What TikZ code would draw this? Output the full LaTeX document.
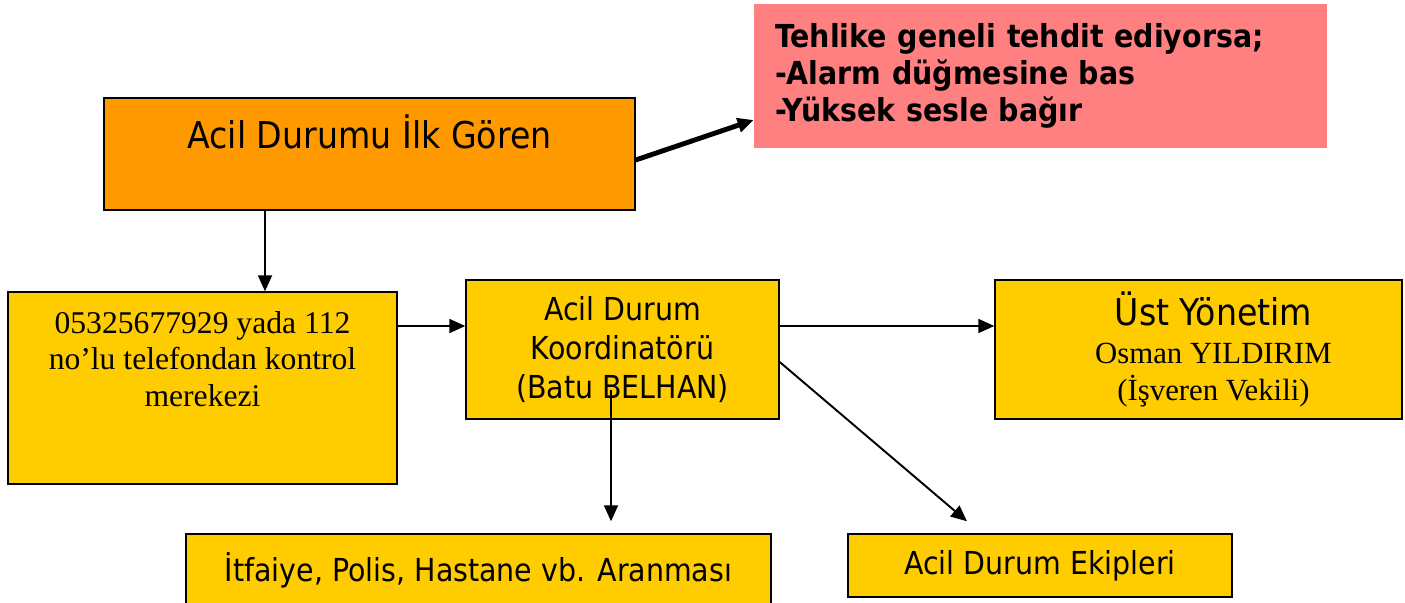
\documentclass[tikz,border=0pt]{standalone}
\usepackage{fontspec}
\setmainfont{Liberation Serif}
\newfontfamily\tahoma{DejaVu Sans}[FakeStretch=0.9]
\usetikzlibrary{arrows.meta}
\definecolor{boxorange}{HTML}{FF9900}
\definecolor{boxpink}{HTML}{FF8080}
\definecolor{boxyellow}{HTML}{FFCC00}

\begin{document}
\begin{tikzpicture}[
  box/.style={draw=black, line width=0.8pt, fill=boxyellow, align=center, inner sep=0pt},
  arr/.style={-{Triangle[length=0.32cm,width=0.28cm]}, line width=1.1pt},
]
\useasboundingbox (0,0) rectangle (28.1,-12.06);
\node[box, fill=boxorange, minimum width=10.62cm, minimum height=2.24cm, font=\tahoma\fontsize{21}{25}\selectfont] (seen) at (7.39,-3.08) {Acil Durumu İlk Gören\\\mbox{}};
\node[fill=boxpink, minimum width=11.46cm, minimum height=2.88cm, inner xsep=0.42cm, text width=10.62cm, align=left, font=\tahoma\bfseries\fontsize{18}{21}\selectfont] (warn) at (20.81,-1.52) {Tehlike geneli tehdit ediyorsa;\\-Alarm düğmesine bas\\-Yüksek sesle bağır};
\node[box, minimum width=7.78cm, minimum height=3.84cm, font=\fontsize{18}{21}\selectfont] (phone) at (4.05,-7.76) {05325677929 yada 112\\no’lu telefondan kontrol\\merekezi\\[12pt]\mbox{}};
\node[box, minimum width=6.26cm, minimum height=2.78cm, font=\tahoma\fontsize{18}{22}\selectfont] (coord) at (12.45,-6.99) {Acil Durum\\Koordinatörü\\(Batu BELHAN)};
\node[box, minimum width=8.14cm, minimum height=2.78cm, font=\fontsize{17.5}{21.5}\selectfont] (mgmt) at (23.97,-6.99) {\hspace*{0.6cm}{\tahoma\fontsize{21}{25}\selectfont Üst Yönetim}\\\hspace*{0.6cm}Osman YILDIRIM\\\hspace*{0.6cm}(İşveren Vekili)};
\node[box, minimum width=11.7cm, minimum height=1.44cm, font=\tahoma\fontsize{18}{21}\selectfont] (call) at (9.57,-11.4) {İtfaiye, Polis, Hastane vb. Aranması};
\node[box, minimum width=7.68cm, minimum height=1.26cm, font=\tahoma\fontsize{18}{21}\selectfont] (teams) at (20.8,-11.31) {Acil Durum Ekipleri};
\draw[arr] ([xshift=-2.09cm]seen.south) -- ([xshift=1.25cm]phone.north);
\draw[arr, line width=2.8pt] ([yshift=-0.12cm]seen.east) -- ([yshift=-0.88cm]warn.west);
\draw[arr] ([yshift=1.24cm]phone.east) -- ([yshift=0.47cm]coord.west);
\draw[arr] ([yshift=0.47cm]coord.east) -- ([yshift=0.47cm]mgmt.west);
\coordinate (drop) at ([xshift=-0.23cm,yshift=-0.81cm]coord.center);
\draw[arr, shorten >=0.24cm] (drop) -- (drop |- call.north);
\draw[arr] ([yshift=-0.25cm]coord.east) -- ([xshift=-1.46cm,yshift=0.24cm]teams.north);
\end{tikzpicture}
\end{document}
